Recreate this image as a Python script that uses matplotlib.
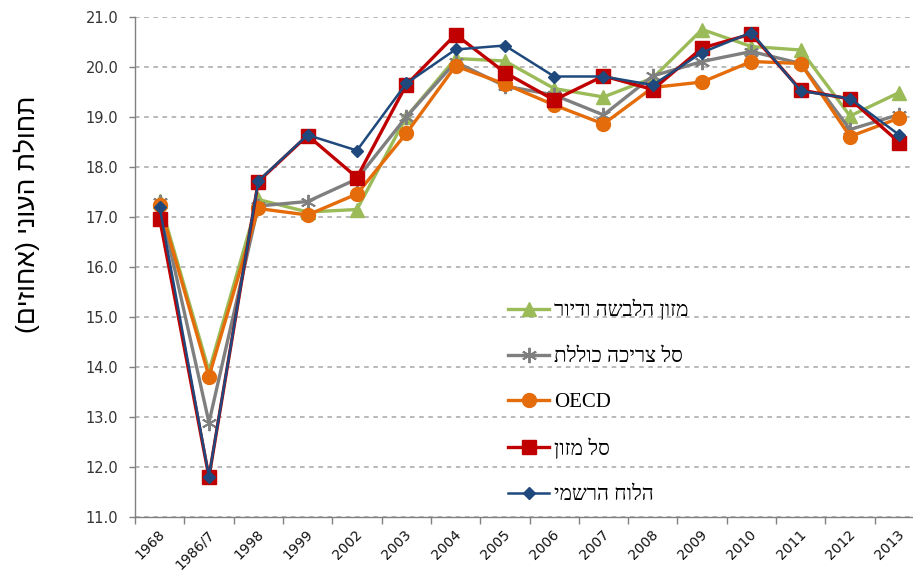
import matplotlib
matplotlib.use("Agg")
import matplotlib.pyplot as plt
from matplotlib.ticker import FixedLocator, FormatStrFormatter
from matplotlib.transforms import ScaledTranslation

categories = ["1968", "1986/7", "1998", "1999", "2002", "2003", "2004", "2005",
              "2006", "2007", "2008", "2009", "2010", "2011", "2012", "2013"]

food_clothing_housing = [17.32, 13.92, 17.35, 17.10, 17.15, 19.00, 20.17, 20.12,
                         19.57, 19.40, 19.78, 20.75, 20.41, 20.34, 19.02, 19.49]
total_consumption = [17.30, 12.89, 17.22, 17.31, 17.76, 19.00, 20.10, 19.62,
                     19.44, 19.04, 19.82, 20.11, 20.31, 20.07, 18.75, 19.05]
oecd = [17.25, 13.81, 17.17, 17.04, 17.46, 18.67, 20.02, 19.66,
        19.24, 18.86, 19.59, 19.70, 20.11, 20.07, 18.61, 18.98]
food_basket = [16.97, 11.80, 17.71, 18.63, 17.79, 19.64, 20.65, 19.89,
               19.34, 19.82, 19.55, 20.38, 20.66, 19.54, 19.36, 18.49]
official = [17.20, 11.81, 17.72, 18.64, 18.33, 19.67, 20.35, 20.43,
            19.81, 19.81, 19.64, 20.29, 20.69, 19.52, 19.37, 18.64]

labels = ["מזון הלבשה ודיור", "סל צריכה כוללת", "OECD", "סל מזון", "הלוח הרשמי"]
ylabel = "תחולת העוני (אחוזים)"


def visual(s):
    # matplotlib lays glyphs out left-to-right; reorder Hebrew for display
    if all(ord(c) < 128 for c in s):
        return s
    r = s[::-1]
    return r.translate(str.maketrans("()", ")("))


fig = plt.figure(figsize=(9.13, 5.74), dpi=100)
ax = fig.add_axes([135 / 913, 57 / 574, 789 / 913, 500 / 574])

x = list(range(len(categories)))
styles = [
    (food_clothing_housing, "#9BBB59", "^", 10.5, 2.4),
    (total_consumption, "#7F7F7F", (6, 2, 0), 11, 2.4),
    (oecd, "#E46C0A", "o", 10, 2.4),
    (food_basket, "#C00000", "s", 9.5, 2.4),
    (official, "#1F497D", "D", 6, 1.8),
]
for (vals, col, mk, ms, lw), lab in zip(styles, labels):
    if mk == (6, 2, 0):
        ax.plot(x, vals, color=col, lw=lw, marker=mk, ms=ms,
                mew=1.4, mec=col, label=visual(lab))
    else:
        ax.plot(x, vals, color=col, lw=lw, marker=mk, ms=ms,
                mec=col, mfc=col, label=visual(lab))

ax.set_xlim(-0.5, len(categories) - 0.5)
ax.set_ylim(11, 21)
ax.yaxis.set_major_locator(FixedLocator([11 + i for i in range(11)]))
ax.yaxis.set_major_formatter(FormatStrFormatter("%.1f"))
ax.grid(axis="y", color="#A6A6A6", linestyle=(0, (3, 3)), lw=1.1)
ax.set_axisbelow(True)

ax.set_xticks(x)
ax.set_xticklabels(categories, rotation=45, ha="right", va="center",
                   rotation_mode="anchor", family=["DejaVu Sans"], fontsize=10,
                   color="#111111")
ax.set_xticks([i - 0.5 for i in range(len(categories) + 1)], minor=True)
ax.tick_params(axis="x", which="major", length=0, pad=11)
ax.tick_params(axis="x", which="minor", length=5, color="#808080", width=1)
for lbl in ax.get_xticklabels():
    lbl.set_transform(lbl.get_transform() +
                      ScaledTranslation(3 / 100, 0, fig.dpi_scale_trans))
ax.tick_params(axis="y", length=4, color="#808080", width=1, labelsize=10.5, pad=8)
for t in ax.get_yticklabels():
    t.set_family(["DejaVu Sans"])
    t.set_color("#333333")

for s in ["top", "right"]:
    ax.spines[s].set_visible(False)
for s in ["left", "bottom"]:
    ax.spines[s].set_color("#808080")
    ax.spines[s].set_linewidth(1)

fig.text(26.5 / 913, (574 - 214) / 574, visual(ylabel), rotation=90,
         ha="center", va="center", family=["Liberation Sans", "DejaVu Sans"],
         fontsize=19)

leg = ax.legend(loc="upper left", bbox_to_anchor=(0.473, 0.434), frameon=False,
                prop={"family": ["Liberation Serif", "DejaVu Sans"], "size": 15},
                labelspacing=1.24, handlelength=1.95, handletextpad=0.25,
                borderpad=0, borderaxespad=0)

fig.savefig("out.png", dpi=100)
